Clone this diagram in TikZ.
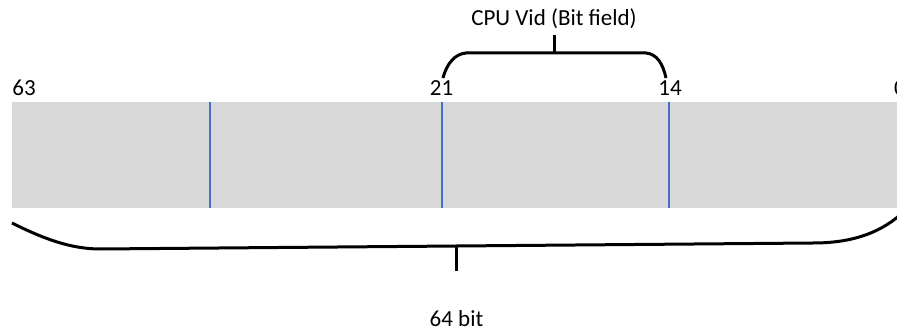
\documentclass[tikz,border=0pt]{standalone}
\usepackage{fontspec}
\setmainfont{Carlito}
\begin{document}
\begin{tikzpicture}[x=1pt,y=-1pt,
  lbl/.style={font=\fontsize{23}{26}\selectfont, inner sep=0pt, anchor=base},
  brace/.style={line width=3pt, black},
  divider/.style={draw=blue!60!cyan!70!black, line width=1.3pt, draw={rgb,255:red,68;green,114;blue,196}},
  reg/.style={fill={rgb,255:red,217;green,217;blue,217}, draw=none}]
\useasboundingbox (0,0) rectangle (897,331);
% register
\path[reg] (12,102) rectangle (905,208);
\coordinate (d1t) at (210,102); \coordinate (d1b) at (210,208);
\coordinate (d2t) at (442,102); \coordinate (d2b) at (442,208);
\coordinate (d3t) at (669,102); \coordinate (d3b) at (669,208);
\draw[divider] (d1t) -- (d1b);
\draw[divider] (d2t) -- (d2b);
\draw[divider] (d3t) -- (d3b);
% bit labels
\node[lbl] (b63) at (24,96) {63};
\node[lbl] (b21) at (441.5,96) {21};
\node[lbl] (b14) at (670,96) {14};
\node[lbl] (b0) at (900,96) {0};
% top brace
\node[lbl] (cpu) at (554,26) {CPU Vid (Bit field)};
\coordinate (tl) at (443,78);
\coordinate (tr) at (666,78);
\coordinate (tm) at (554,53);
\coordinate (ts) at (554,35);
\draw[brace] (tl) .. controls (447,63) and (455,54) .. (466,53) -- (646,53)
  .. controls (657,54) and (663,64) .. (tr);
\draw[brace] (tm) -- (ts);
% bottom brace
\node[lbl] (bits) at (456.5,326) {64 bit};
\coordinate (bl) at (12,223);
\coordinate (br) at (900,215);
\coordinate (bm) at (456,246.5);
\coordinate (bs) at (456,271);
\draw[brace] (bl) .. controls (42,238) and (70,249) .. (100,249) -- (813,243)
  .. controls (850,243) and (878,234) .. (br);
\draw[brace] (bm) -- (bs);
\end{tikzpicture}
\end{document}
